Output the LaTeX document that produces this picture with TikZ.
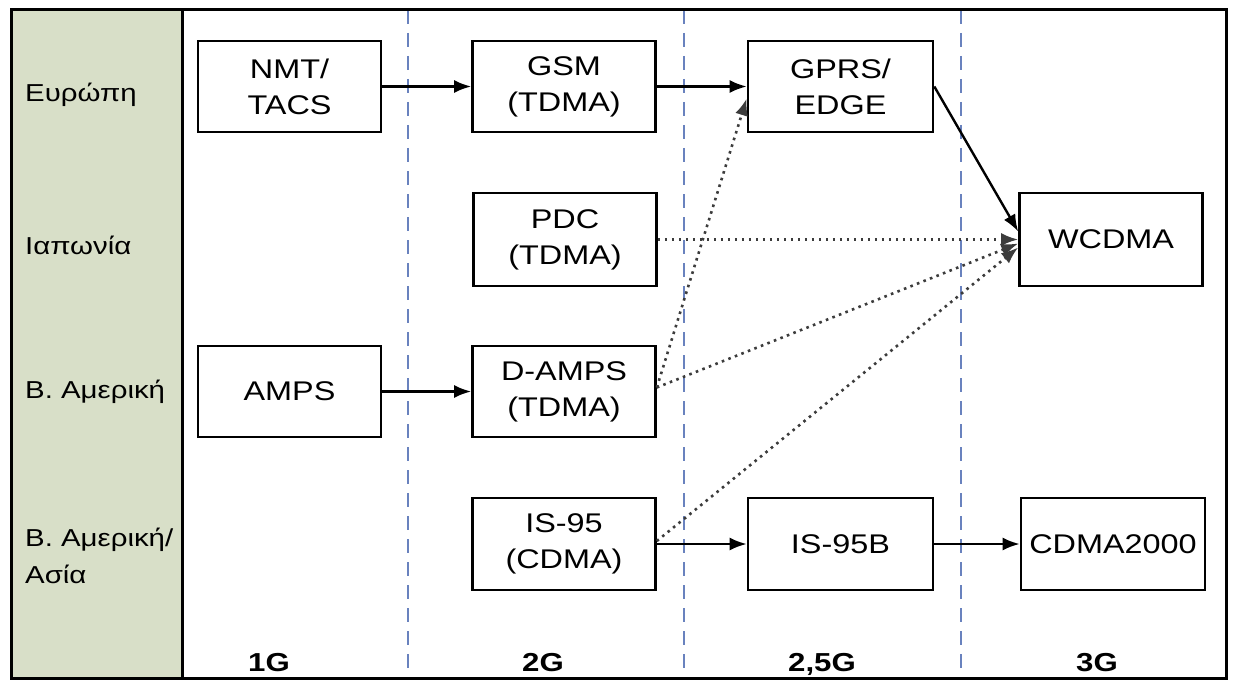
\documentclass[tikz,border=0pt]{standalone}
\usepackage{fontspec}
\setmainfont{Liberation Sans}[FakeStretch=1.2]
\usetikzlibrary{arrows.meta}
\definecolor{colgreen}{RGB}{216,223,200}
\definecolor{dashblue}{RGB}{105,130,190}
\definecolor{dotgray}{RGB}{60,60,60}
\begin{document}
\begin{tikzpicture}[x=1pt,y=-1pt,
 box/.style={draw=black, line width=2.6pt, fill=white, minimum width=183pt, minimum height=91pt, align=center, inner sep=0pt, font=\fontsize{27}{36}\selectfont},
 rowlabel/.style={anchor=west, align=left, inner sep=0pt, font=\fontsize{24.5}{37}\selectfont},
 genlabel/.style={anchor=base, inner sep=0pt, font=\fontsize{26}{30}\selectfont\bfseries},
 sepline/.style={draw=dashblue, line width=2.2pt, dash pattern=on 14pt off 9pt},
 solidarrow/.style={draw=black, line width=2.4pt, -{Latex[length=17pt,width=13pt]}},
 dotarrow/.style={draw=dotgray, line width=2.6pt, dash pattern=on 2.6pt off 4.4pt, -{Latex[length=17pt,width=13pt]}}
]
\useasboundingbox (0,0) rectangle (1234,682);
\fill[colgreen] (11,10) rectangle (182,678);
\draw[sepline] (408,10) -- (408,678);
\draw[sepline] (684,10) -- (684,678);
\draw[sepline] (961,10) -- (961,678);
\draw[line width=3pt] (11,10) rectangle (1226,678);
\draw[line width=3pt] (182,10) -- (182,678);

\node[rowlabel] (l1) at (25,95) {Ευρώπη};
\node[rowlabel] (l2) at (25,245) {Ιαπωνία};
\node[rowlabel] (l3) at (25,392) {Β. Αμερική};
\node[rowlabel] (l4) at (25,556) {Β. Αμερική/\\Ασία};

\node[genlabel] (g1) at (269,671) {1G};
\node[genlabel] (g2) at (543,671) {2G};
\node[genlabel] (g3) at (822,671) {2,5G};
\node[genlabel] (g4) at (1097,671) {3G};

\node[box] (nmt) at (289.5,86.5) {NMT/\\TACS};
\node[box] (gsm) at (564,86.5) {GSM\\(TDMA)};
\node[box, minimum width=185pt] (gprs) at (840.5,86.5) {GPRS/\\EDGE};
\node[box, minimum height=93pt] (pdc) at (565,239.5) {PDC\\(TDMA)};
\node[box, minimum height=93pt] (wcdma) at (1111,239.5) {WCDMA};
\node[box] (amps) at (289.5,391.5) {AMPS};
\node[box] (damps) at (564,391.5) {D-AMPS\\(TDMA)};
\node[box, minimum height=92pt] (is95) at (564,544) {IS-95\\(CDMA)};
\node[box, minimum width=185pt, minimum height=92pt] (is95b) at (840.5,544) {IS-95B};
\node[box, minimum width=184pt, minimum height=92pt] (cdma) at (1113,544) {CDMA2000};

\draw[solidarrow] (nmt) -- (gsm);
\draw[solidarrow] (gsm) -- (gprs);
\draw[solidarrow] (gprs.east) -- ([yshift=8pt]wcdma.west);
\draw[dotarrow] (pdc) -- (wcdma);
\draw[dotarrow] ([yshift=4pt]damps.east) -- ([yshift=-12pt]gprs.west);
\draw[dotarrow] ([yshift=4pt]damps.east) -- ([yshift=-4pt]wcdma.west);
\draw[dotarrow] ([yshift=3pt]is95.east) -- ([yshift=-8pt]wcdma.west);
\draw[solidarrow] (amps) -- (damps);
\draw[solidarrow] (is95) -- (is95b);
\draw[solidarrow] (is95b) -- (cdma);
\end{tikzpicture}
\end{document}
